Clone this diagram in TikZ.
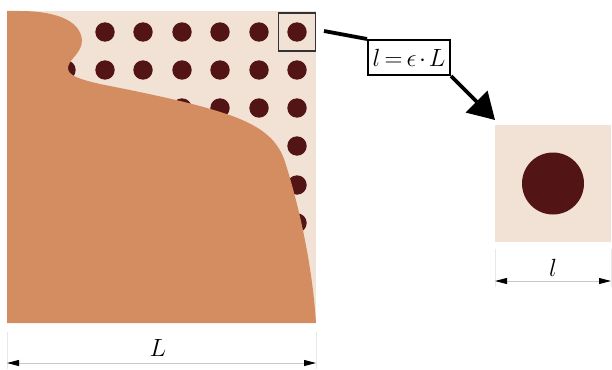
\documentclass[tikz,border=0pt]{standalone}
\usetikzlibrary{arrows.meta}
\definecolor{bgpink}{RGB}{242,225,213}
\definecolor{copper}{RGB}{211,141,96}
\definecolor{dotred}{RGB}{82,20,20}
\definecolor{extgray}{RGB}{232,232,232}
\definecolor{dimgray}{RGB}{200,200,200}
\tikzset{
  dotc/.style={fill=dotred},
  dimline/.style={draw=dimgray, line width=0.9pt,
    {Triangle[length=12pt,width=6pt,fill=black,color=black]}-{Triangle[length=12pt,width=6pt,fill=black,color=black]}},
  extline/.style={draw=extgray, line width=1pt},
  dimlabel/.style={font=\fontsize{23}{26}\selectfont, inner sep=0pt},
  zoomarrow/.style={line width=3.8pt, -{Triangle[length=26pt,width=30pt]}},
  labelbox/.style={draw, line width=2pt, fill=white, inner sep=1pt, minimum width=82pt, minimum height=35pt, font=\fontsize{26}{28}\selectfont}
}
\begin{document}
\begin{tikzpicture}[x=1pt,y=-1pt]
\useasboundingbox (0,0) rectangle (612,369);
% big domain
\fill[bgpink] (7,11) rectangle (316,323);
\foreach \cx in {28,66,105,143,182,220,259,297}
  \foreach \cy in {32,70,108,146,185,223,261,300}
    \fill[dotc] (\cx,\cy) circle (9.7);
\fill[copper] (7,11) -- (20,11)
  .. controls (50,11) and (80,18) .. (82,40)
  .. controls (82,53) and (70,58) .. (68,67)
  .. controls (67,75) and (78,79) .. (100,84)
  .. controls (150,94) and (200,104) .. (235,117)
  .. controls (262,127.6) and (279,140) .. (286,165)
  .. controls (297,200) and (312,260) .. (316,323)
  -- (7,323) -- cycle;
% highlight box
\node[draw=black!80, line width=1.5pt, minimum width=37pt, minimum height=38pt, inner sep=0pt] (hl) at (297,32) {};
% zoomed cell
\node[fill=bgpink, minimum width=116pt, minimum height=117pt, inner sep=0pt] (cell) at (553,183.5) {};
\fill[dotc] (cell.center) circle (31);
% label and arrow
\coordinate (src) at (324,31);
\coordinate (tip) at (495,120);
\node[labelbox] (lab) at (409,57.5) {$l\mkern-2mu=\mkern-2mu\epsilon\mkern-2mu\cdot\mkern-2mu L$};
\draw[line width=3.8pt] (src) -- (lab.north west);
\draw[zoomarrow] (lab.south east) -- (tip);
% dimension L
\coordinate (Lt1) at (7,332); \coordinate (Lb1) at (7,369);
\coordinate (Lt2) at (316,332); \coordinate (Lb2) at (316,369);
\draw[extline] (Lt1) -- (Lb1);
\draw[extline] (Lt2) -- (Lb2);
\coordinate (La) at (7,363); \coordinate (Lz) at (316,363);
\draw[dimline] (La) -- (Lz);
\node[dimlabel] (Ltext) at (158,348) {$L$};
% dimension l
\coordinate (lt1) at (495,249); \coordinate (lb1) at (495,287);
\coordinate (lt2) at (611,249); \coordinate (lb2) at (611,287);
\draw[extline] (lt1) -- (lb1);
\draw[extline] (lt2) -- (lb2);
\coordinate (la) at (495,281); \coordinate (lz) at (611,281);
\draw[dimline] (la) -- (lz);
\node[dimlabel] (ltext) at (553,268) {$l$};
\end{tikzpicture}
\end{document}
